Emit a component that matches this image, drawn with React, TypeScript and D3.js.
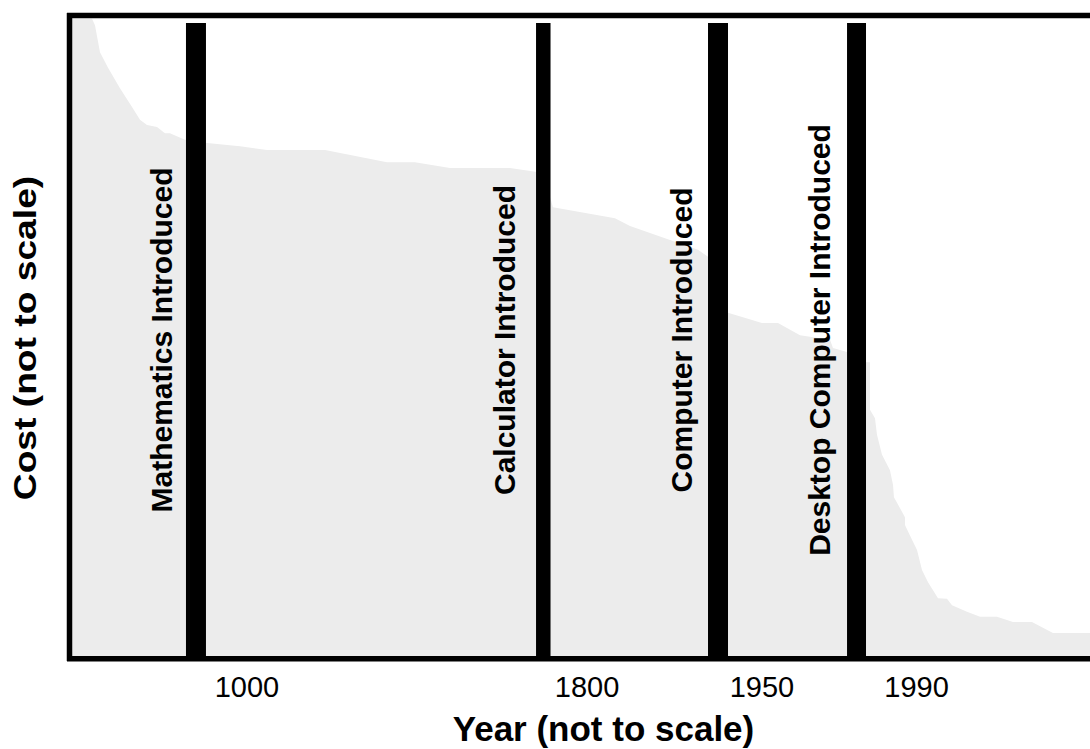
import React from "react";
import * as d3 from "d3";

// Position along the (not to scale) time axis, 0-100
const costPositions = [0, 2.16, 2.45, 2.94, 3.73, 4.9, 6.08, 6.86, 7.55, 8.53, 9.31, 9.8, 11.27, 13.43, 16.67, 19.31, 25.0, 31.08, 33.82, 37.25, 43.14, 45.78, 47.06, 47.35, 53.43, 54.9, 56.86, 61.57, 62.55, 64.51, 67.84, 69.41, 71.57, 74.51, 74.8, 76.18, 78.04, 78.43, 78.43, 78.92, 79.12, 79.61, 80.39, 80.69, 80.78, 81.86, 81.86, 82.55, 83.04, 83.53, 84.12, 85.1, 85.98, 86.47, 87.94, 89.22, 90.88, 92.45, 94.31, 96.37, 100];
// Cost (not to scale), 0-100
const costValues = [99.4, 99.4, 98.4, 94.2, 91.8, 88.6, 85.7, 83.7, 82.9, 82.6, 81.6, 81.6, 80.6, 80.1, 79.6, 79.0, 79.0, 77.1, 77.1, 76.2, 76.2, 75.6, 71.7, 70.1, 68.4, 67.2, 66.1, 63.5, 62.4, 53.7, 52.1, 52.1, 50.2, 49.5, 48.2, 47.6, 46.0, 46.0, 38.6, 37.3, 34.7, 31.6, 29.2, 26.9, 25.0, 21.9, 20.7, 18.4, 16.8, 13.7, 11.8, 9.3, 9.2, 8.2, 7.2, 6.4, 6.4, 5.6, 5.6, 3.9, 3.9];

const milestoneNames = ["Mathematics Introduced", "Calculator Introduced", "Computer Introduced", "Desktop Computer Introduced"];
const milestoneStart = [11.37, 45.69, 62.55, 76.18];
const milestoneEnd = [13.33, 47.11, 64.51, 78.04];
const milestoneLabelPos = [10.0, 43.58, 60.98, 74.51];

const tickLabels = ["1000", "1800", "1950", "1990"];
const tickPositions = [17.35, 50.69, 67.84, 83.0];

const W = 1090;
const H = 749;
const left = 70;
const right = 1090;
const top = 15;
const bottom = 658;

export default function App() {
  const x = d3.scaleLinear().domain([0, 100]).range([left, right]);
  const y = d3.scaleLinear().domain([0, 100]).range([bottom, top]);
  const data = costPositions.map((p, i) => ({ p, v: costValues[i] }));
  const area = d3
    .area<{ p: number; v: number }>()
    .x((d) => x(d.p))
    .y0(y(0))
    .y1((d) => y(d.v))
    .curve(d3.curveLinear);
  const font = "'Liberation Sans', Arial, Helvetica, sans-serif";
  const midY = 340;
  return (
    <svg width={W} height={H} style={{ position: "absolute", left: 0, top: 0 }} fontFamily={font}>
      <rect x={0} y={0} width={W} height={H} fill="#ffffff" />
      <path d={area(data) || ""} fill="#ececec" />
      {milestoneNames.map((n, i) => (
        <g key={n}>
          <rect
            x={x(milestoneStart[i])}
            y={23}
            width={x(milestoneEnd[i]) - x(milestoneStart[i])}
            height={bottom - 23}
            fill="#000"
          />
          <text
            transform={`translate(${x(milestoneLabelPos[i])},${midY}) rotate(-90)`}
            textAnchor="middle"
            fontSize={30}
            fontWeight="bold"
            fill="#000"
          >
            {n}
          </text>
        </g>
      ))}
      {/* frame */}
      <line x1={67} x2={W} y1={15.5} y2={15.5} stroke="#000" strokeWidth={5.5} />
      <line x1={69.5} x2={69.5} y1={13} y2={661} stroke="#000" strokeWidth={5.5} />
      <line x1={67} x2={W} y1={658.8} y2={658.8} stroke="#000" strokeWidth={5.5} />
      {tickLabels.map((t, i) => (
        <text key={t} x={x(tickPositions[i])} y={697} textAnchor="middle" fontSize={29} fill="#000">
          {t}
        </text>
      ))}
      <text x={603.5} y={741} textAnchor="middle" fontSize={35} fontWeight="bold" fill="#000">
        Year (not to scale)
      </text>
      <text
        transform={`translate(36,338) rotate(-90) scale(1.2,1)`}
        textAnchor="middle"
        fontSize={31}
        fontWeight="bold"
        fill="#000"
      >
        Cost (not to scale)
      </text>
    </svg>
  );
}
